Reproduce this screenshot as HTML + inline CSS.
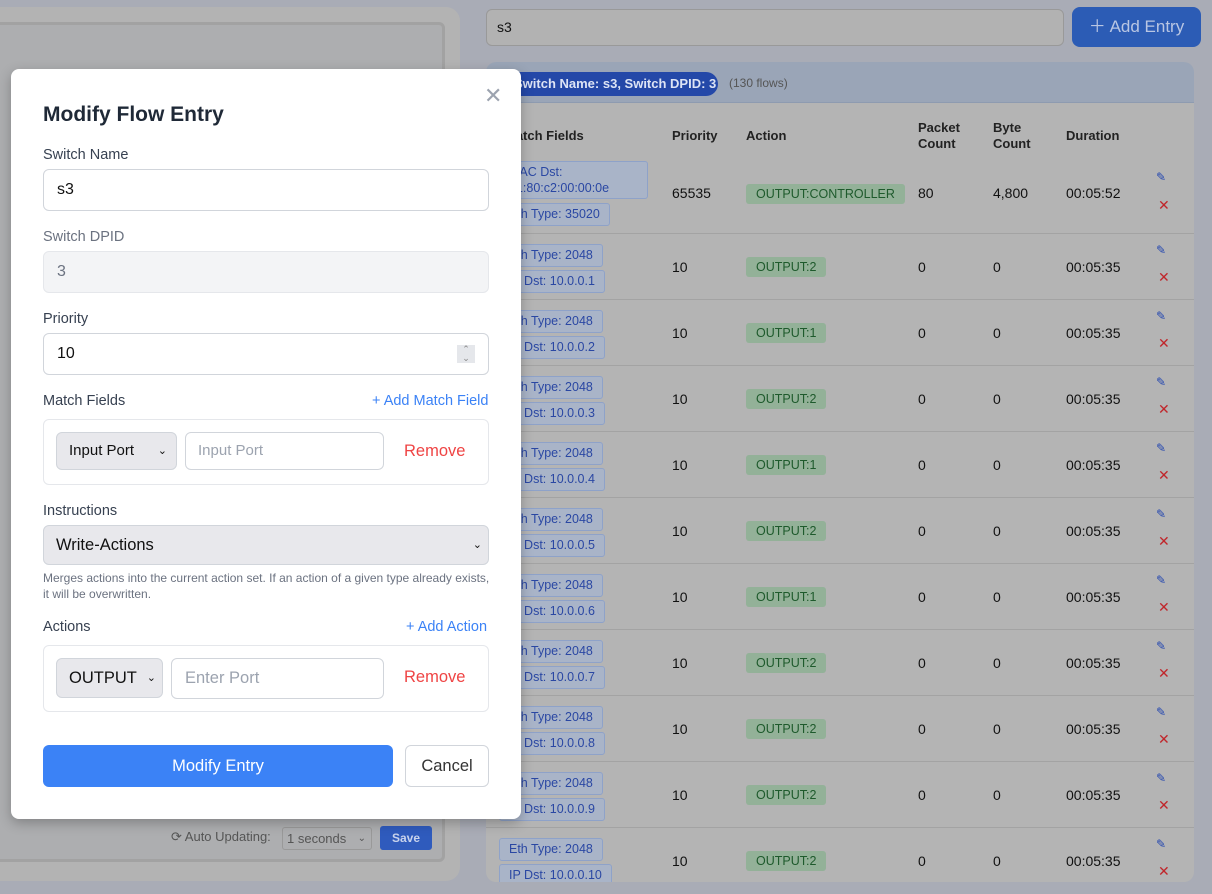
<!DOCTYPE html>
<html><head><meta charset="utf-8"><style>
*{box-sizing:border-box;margin:0;padding:0}
body{width:1212px;height:894px;overflow:hidden;background:#a9acb6;font-family:"Liberation Sans",sans-serif;position:relative;color:#1f2937}
.a{position:absolute}
.tag{position:absolute;left:499px;height:23px;border:1px solid #8ea2c9;background:#a9b4c8;color:#2a47a3;font-size:12.5px;line-height:21px;padding:0 9px;border-radius:3px;white-space:nowrap}
.g{position:absolute;left:746px;height:20px;background:#93b198;color:#1e5a2c;font-size:12.5px;line-height:20px;padding:0 10px;border-radius:3px}
.t{position:absolute;font-size:14px;color:#111}
.pen{position:absolute;left:1156px;color:#2346b0;font-size:12px}
.x{position:absolute;left:1158px;color:#c0262b;font-size:14px}
.lbl{position:absolute;left:43px;font-size:14.5px;color:#374151}
.inp{position:absolute;left:43px;width:446px;height:42px;border:1px solid #d1d5db;border-radius:6px;font-size:16px;padding-left:13px;line-height:40px}
</style></head><body>
<!-- left panel -->
<div class="a" style="left:-20px;top:7px;width:480px;height:874px;background:#b3b3b3;border-radius:14px"></div>
<div class="a" style="left:-20px;top:22px;width:465px;height:840px;border:3px solid #a2a2a2;border-radius:6px;background:#adaeb0"></div>
<div class="a" style="left:171px;top:829px;font-size:13px;color:#555">⟳ Auto Updating:</div>
<div class="a" style="left:282px;top:827px;width:90px;height:23px;border:1px solid #999;border-radius:3px;font-size:13px;color:#555;line-height:21px;padding-left:4px">1 seconds <span style="float:right;margin-right:5px;font-size:10px">⌄</span></div>
<div class="a" style="left:380px;top:826px;width:52px;height:24px;background:#2f5bbd;border-radius:3px;color:#c8d3ec;font-size:12px;font-weight:bold;text-align:center;line-height:24px">Save</div>
<!-- right -->
<div class="a" style="left:486px;top:9px;width:578px;height:37px;background:#b2b2b2;border:1px solid #999;border-radius:6px;font-size:14px;line-height:35px;padding-left:10px;color:#111">s3</div>
<div class="a" style="left:1072px;top:7px;width:129px;height:40px;background:#2c5cb5;border-radius:8px;color:#b9c6e3;font-size:17px;line-height:40px;text-align:center">＋ Add Entry</div>
<div class="a" style="left:486px;top:62px;width:708px;height:820px;background:#b4b4b4;border-radius:10px;overflow:hidden">
<div class="a" style="left:0;top:0;width:708px;height:41px;background:#9aa5b7;border-bottom:1px solid #8e9bb0"></div>
<div class="a" style="left:10px;top:10px;width:222px;height:24px;background:#2448a8;border-radius:12px;color:#dde4f5;font-size:13px;font-weight:bold;line-height:24px;padding-left:18px">Switch Name: s3, Switch DPID: 3</div>
<div class="a" style="left:243px;top:14px;font-size:12px;color:#555">(130 flows)</div>
</div>
<div class="t" style="left:505px;top:128px;font-weight:bold;font-size:13px;color:#222">Match Fields</div>
<div class="t" style="left:672px;top:128px;font-weight:bold;font-size:13px;color:#222">Priority</div>
<div class="t" style="left:746px;top:128px;font-weight:bold;font-size:13px;color:#222">Action</div>
<div class="t" style="left:918px;top:120px;font-weight:bold;font-size:13px;color:#222;line-height:16px">Packet<br>Count</div>
<div class="t" style="left:993px;top:120px;font-weight:bold;font-size:13px;color:#222;line-height:16px">Byte<br>Count</div>
<div class="t" style="left:1066px;top:128px;font-weight:bold;font-size:13px;color:#222">Duration</div>
<div class="tag" style="top:161px;height:38px;line-height:16px;padding-top:2px;width:149px">MAC Dst:<br>01:80:c2:00:00:0e</div>
<div class="tag" style="top:203px">Eth Type: 35020</div>
<div class="t" style="left:672px;top:185px">65535</div>
<div class="g" style="top:184px">OUTPUT:CONTROLLER</div>
<div class="t" style="left:918px;top:185px">80</div><div class="t" style="left:993px;top:185px">4,800</div><div class="t" style="left:1066px;top:185px">00:05:52</div>
<div class="pen" style="top:170px">✎</div><div class="x" style="top:197px">✕</div>
<div class="a" style="left:486px;top:233px;width:708px;height:1px;background:#a3a3a3"></div>
<div id="rows"></div>
<script>
var acts=[2,1,2,1,2,1,2,2,2,2],h='';
for(var i=0;i<10;i++){var T=234+66*i;
h+='<div class="tag" style="top:'+(T+10)+'px">Eth Type: 2048</div><div class="tag" style="top:'+(T+36)+'px">IP Dst: 10.0.0.'+(i+1)+'</div>'+
'<div class="t" style="left:672px;top:'+(T+25)+'px">10</div><div class="g" style="top:'+(T+23)+'px">OUTPUT:'+acts[i]+'</div>'+
'<div class="t" style="left:918px;top:'+(T+25)+'px">0</div><div class="t" style="left:993px;top:'+(T+25)+'px">0</div><div class="t" style="left:1066px;top:'+(T+25)+'px">00:05:35</div>'+
'<div class="pen" style="top:'+(T+9)+'px">✎</div><div class="x" style="top:'+(T+35)+'px">✕</div>'+
'<div class="a" style="left:486px;top:'+(T+65)+'px;width:708px;height:1px;background:#a3a3a3"></div>';}
document.getElementById('rows').outerHTML=h;
</script>
<div class="a" style="left:0;top:882px;width:1212px;height:12px;background:#a9acb6"></div>
<!-- modal -->
<div class="a" style="left:11px;top:69px;width:510px;height:750px;background:#fff;border-radius:8px;box-shadow:0 4px 12px rgba(0,0,0,.25)">
<div class="a" style="left:473px;top:14px;font-size:22px;color:#9ca3af;font-weight:300">✕</div>
</div>
<div class="a" style="left:43px;top:103px;font-size:21px;font-weight:bold;color:#1f2937">Modify Flow Entry</div>
<div class="lbl" style="top:147px">Switch Name</div>
<div class="inp" style="top:169px;color:#111">s3</div>
<div class="lbl" style="top:229px;color:#6b7280">Switch DPID</div>
<div class="inp" style="top:251px;background:#f3f4f6;color:#6b7280;border-color:#e5e7eb">3</div>
<div class="lbl" style="top:311px">Priority</div>
<div class="inp" style="top:333px;color:#111">10<span style="position:absolute;right:13px;top:11px;width:18px;height:18px;background:#e5e7eb;font-size:9px;line-height:9px;text-align:center;color:#888">⌃<br>⌄</span></div>
<div class="lbl" style="top:393px">Match Fields</div>
<div class="a" style="left:372px;top:393px;font-size:14.5px;color:#3b82f6">+ Add Match Field</div>
<div class="a" style="left:43px;top:419px;width:446px;height:66px;border:1px solid #e5e7eb;border-radius:6px"></div>
<div class="a" style="left:56px;top:432px;width:121px;height:38px;background:#e8e8ec;border:1px solid #d1d5db;border-radius:6px;font-size:15px;line-height:36px;padding-left:12px;color:#111">Input Port<span style="position:absolute;right:9px;font-size:11px">⌄</span></div>
<div class="a" style="left:185px;top:432px;width:199px;height:38px;border:1px solid #d1d5db;border-radius:6px;font-size:15px;line-height:36px;padding-left:12px;color:#9ca3af">Input Port</div>
<div class="a" style="left:404px;top:442px;font-size:16.5px;color:#ef4444">Remove</div>
<div class="lbl" style="top:503px">Instructions</div>
<div class="a" style="left:43px;top:525px;width:446px;height:40px;background:#e8e8ec;border:1px solid #d1d5db;border-radius:6px;font-size:16.5px;line-height:38px;padding-left:12px;color:#111">Write-Actions<span style="position:absolute;right:6px;font-size:11px">⌄</span></div>
<div class="a" style="left:43px;top:570px;width:450px;font-size:12px;line-height:16px;color:#6b7280">Merges actions into the current action set. If an action of a given type already exists, it will be overwritten.</div>
<div class="lbl" style="top:619px">Actions</div>
<div class="a" style="left:406px;top:619px;font-size:14.5px;color:#3b82f6">+ Add Action</div>
<div class="a" style="left:43px;top:645px;width:446px;height:67px;border:1px solid #e5e7eb;border-radius:6px"></div>
<div class="a" style="left:56px;top:658px;width:107px;height:40px;background:#e8e8ec;border:1px solid #d1d5db;border-radius:6px;font-size:16.5px;line-height:38px;padding-left:12px;color:#111">OUTPUT<span style="position:absolute;right:6px;font-size:11px">⌄</span></div>
<div class="a" style="left:171px;top:658px;width:213px;height:41px;border:1px solid #d1d5db;border-radius:6px;font-size:16.5px;line-height:39px;padding-left:13px;color:#9ca3af">Enter Port</div>
<div class="a" style="left:404px;top:668px;font-size:16.5px;color:#ef4444">Remove</div>
<div class="a" style="left:43px;top:745px;width:350px;height:42px;background:#3b82f6;border-radius:6px;color:#fff;font-size:16.5px;line-height:42px;text-align:center">Modify Entry</div>
<div class="a" style="left:405px;top:745px;width:84px;height:42px;border:1px solid #d1d5db;border-radius:6px;color:#333;font-size:16.5px;line-height:40px;text-align:center">Cancel</div>
</body></html>
